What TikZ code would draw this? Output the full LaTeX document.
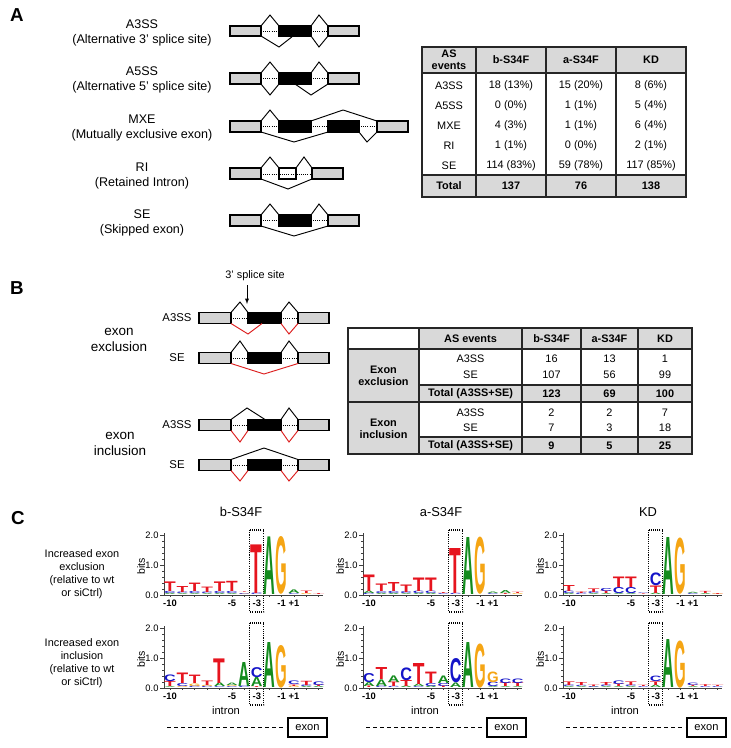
\documentclass[tikz,border=0pt]{standalone}
\usepackage{fontspec}
\setmainfont{Liberation Sans}
\usepackage{graphicx}
\usepackage{xcolor}
\usepackage{tikz}
\usetikzlibrary{arrows,calc,positioning}
\definecolor{exgray}{RGB}{211,211,211}
\definecolor{tabgray}{RGB}{217,217,217}
\definecolor{jred}{RGB}{220,30,30}
\definecolor{lgA}{RGB}{20,140,30}
\definecolor{lgC}{RGB}{20,20,200}
\definecolor{lgG}{RGB}{245,165,20}
\definecolor{lgT}{RGB}{230,20,30}
\tikzset{%
	exon/.style     = {draw, line width=1pt, fill=exgray}, % constitutive exon
	altex/.style    = {draw, line width=1pt, fill=black}, % alternative exon
	retint/.style   = {draw, line width=1pt, fill=white}, % retained intron
	junc/.style     = {line width=0.8pt},
	redjunc/.style  = {line width=0.8pt, draw=jred},
	intr/.style     = {densely dotted, line width=0.8pt},
	panel/.style    = {font=\fontsize{16}{18}\selectfont\bfseries},
	evlabel/.style  = {align=center, font=\fontsize{10.7}{13}\selectfont},
}
\tikzset{%
	tabline/.style  = {line width=1.1pt, draw=black!85},
	tabtxt/.style   = {align=center, font=\fontsize{9.3}{11}\selectfont},
	tabhead/.style  = {align=center, font=\fontsize{9.3}{11}\selectfont\bfseries},
	axis/.style     = {line width=0.6pt, draw=black!75},
	ytick/.style    = {inner sep=1pt, font=\fontsize{8}{9}\selectfont},
	xtick/.style    = {inner sep=0pt, font=\fontsize{8}{9}\selectfont\bfseries},
	sitebox/.style  = {densely dotted, line width=0.9pt},
	letter/.style   = {anchor=south, inner sep=0pt, font=\bfseries},
}
% one sequence logo: x offset, baseline, columns (bottom to top)
\newcommand\logo[3]{%
	\foreach \stk [count=\lgi from 0] in {#3}{%
		\gdef\lgacc{0}%
		\foreach \lgL/\lgH in \stk{%
			\pgfmathsetmacro\lgy{#2-30*\lgacc}%
			\pgfmathsetmacro\lgsz{0.9*\lgH}%
			\node[letter, text=lg\lgL] at ({#1+170+12.4*\lgi},\lgy) {\resizebox{0.35cm}{\lgsz cm}{\lgL}};
			\pgfmathsetmacro\lgnew{\lgacc+\lgH}%
			\xdef\lgacc{\lgnew}%
		}%
	}%
}

\begin{document}
\begin{tikzpicture}[x=0.03cm, y=-0.03cm]
	\useasboundingbox (0,0) rectangle (731,748);

	% A
	\node[panel] (pa) at (17,15) {A};
	\node[evlabel] (l3) at (142,33) {A3SS\\(Alternative 3’ splice site)};
	\node[evlabel] (l5) at (142,80) {A5SS\\(Alternative 5’ splice site)};
	\node[evlabel] (lm) at (142,128) {MXE\\(Mutually exclusive exon)};
	\node[evlabel] (lr) at (142,176) {RI\\(Retained Intron)};
	\node[evlabel] (ls) at (142,223) {SE\\(Skipped exon)};

	\draw[intr] (261,31) -- (279,31) (311,31) -- (328,31);
	\draw[exon] (230,26) rectangle (261,36);
	\draw[altex] (279,26) rectangle (311,36);
	\draw[exon] (328,26) rectangle (359,36);
	\draw[junc] (261,26) -- (270,15) -- (279,26) (311,26) -- (319,15) -- (328,26);
	\draw[junc] (261,36) -- (279,47) -- (293,36) (311,36) -- (319,47) -- (328,36);

	\draw[intr] (261,78) -- (279,78) (311,78) -- (328,78);
	\draw[exon] (230,73) rectangle (261,84);
	\draw[altex] (279,73) rectangle (311,84);
	\draw[exon] (328,73) rectangle (359,84);
	\draw[junc] (261,73) -- (270,62) -- (279,73) (311,73) -- (319,62) -- (328,73);
	\draw[junc] (261,84) -- (270,95) -- (279,84) (295,84) -- (311,95) -- (328,84);

	\draw[intr] (261,126) -- (279,126) (311,126) -- (328,126) (359,126) -- (377,126);
	\draw[exon] (230,121) rectangle (261,132);
	\draw[altex] (279,121) rectangle (311,132);
	\draw[altex] (328,121) rectangle (359,132);
	\draw[exon] (377,121) rectangle (408,132);
	\draw[junc] (261,121) -- (270,110) -- (279,121) (311,121) -- (343,110) -- (377,121);
	\draw[junc] (261,132) -- (294,142) -- (328,132) (359,132) -- (367,142) -- (377,132);

	\draw[exon] (230,168) rectangle (261,179);
	\draw[retint] (279,168) rectangle (296,179);
	\draw[exon] (312,168) rectangle (343,179);
	\draw[intr] (261,174) -- (312,174);
	\draw[junc] (261,168) -- (270,157) -- (279,168) (296,168) -- (304,157) -- (312,168);
	\draw[junc] (261,179) -- (288,189) -- (312,179);

	\draw[intr] (261,220) -- (279,220) (311,220) -- (328,220);
	\draw[exon] (230,215) rectangle (261,226);
	\draw[altex] (279,215) rectangle (311,226);
	\draw[exon] (328,215) rectangle (359,226);
	\draw[junc] (261,215) -- (270,204) -- (279,215) (311,215) -- (319,204) -- (328,215);
	\draw[junc] (261,226) -- (294,236) -- (328,226);

	% table A
	\fill[tabgray] (422,47) rectangle (686,73) (422,175) rectangle (686,197);
	\draw[tabline] (422,47) rectangle (686,197);
	\draw[tabline] (422,73) -- (686,73) (422,175) -- (686,175);
	\foreach \cx in {476,546,616} \draw[tabline] (\cx,47) -- (\cx,197);
	\node[tabhead] (ha) at (449,60) {AS\\[-1pt]events};
	\node[tabhead] (hb) at (511,60) {b-S34F};
	\node[tabhead] (hc) at (581,60) {a-S34F};
	\node[tabhead] (hd) at (651,60) {KD};
	\foreach \ry/\ev/\vb/\va/\vk in {86/A3SS/18 (13\%)/15 (20\%)/8 (6\%),
		106/A5SS/0 (0\%)/1 (1\%)/5 (4\%), 126/MXE/4 (3\%)/1 (1\%)/6 (4\%),
		146/RI/1 (1\%)/0 (0\%)/2 (1\%), 166/SE/114 (83\%)/59 (78\%)/117 (85\%)}{
		\node[tabtxt] at (449,\ry) {\ev};
		\node[tabtxt] at (511,\ry) {\vb};
		\node[tabtxt] at (581,\ry) {\va};
		\node[tabtxt] at (651,\ry) {\vk};
	}
	\node[tabhead] (ta) at (449,186) {Total};
	\node[tabhead] (tb) at (511,186) {137};
	\node[tabhead] (tc) at (581,186) {76};
	\node[tabhead] (td) at (651,186) {138};

	% B
	\node[panel] (pb) at (17,288) {B};
	\node[font=\fontsize{9.3}{11}\selectfont] (ss) at (255,276) {3’ splice site};
	\coordinate (ssend) at (247,304);
	\draw[-latex, line width=0.6pt] (ss.south -| ssend) -- (ssend);
	\node[align=center, font=\fontsize{11.5}{14}\selectfont] (exc) at (119,340) {exon\\exclusion};
	\node[align=center, font=\fontsize{11.5}{14}\selectfont] (inc) at (120,444) {exon\\inclusion};
	\foreach \ry/\ev in {318/A3SS, 358/SE, 425/A3SS, 465/SE}{
		\node[font=\fontsize{9.7}{11}\selectfont] at (177,\ry) {\ev};
		\draw[intr] (231,\ry) -- (248,\ry) (281,\ry) -- (298,\ry);
		\draw[exon] (199,\ry-5.5) rectangle (231,\ry+5.5);
		\draw[altex] (248,\ry-5.5) rectangle (281,\ry+5.5);
		\draw[exon] (298,\ry-5.5) rectangle (329,\ry+5.5);
	}
	\draw[junc] (231,312.5) -- (240,302) -- (248,312.5) (281,312.5) -- (289,302) -- (298,312.5);
	\draw[redjunc] (231,323.5) -- (248,334) -- (262,323.5) (281,323.5) -- (289,334) -- (298,323.5);
	\draw[junc] (231,352.5) -- (240,341) -- (248,352.5) (281,352.5) -- (289,341) -- (298,352.5);
	\draw[redjunc] (231,363.5) -- (264,374) -- (298,363.5);
	\draw[junc] (231,419.5) -- (247,408) -- (265,419.5) (281,419.5) -- (289,408) -- (298,419.5);
	\draw[redjunc] (231,430.5) -- (240,442) -- (248,430.5) (281,430.5) -- (289,442) -- (298,430.5);
	\draw[junc] (231,459.5) -- (264,448) -- (298,459.5);
	\draw[redjunc] (231,470.5) -- (240,481) -- (248,470.5) (281,470.5) -- (289,481) -- (298,470.5);

	% table B
	\fill[tabgray] (419,328) rectangle (692,349) (348,349) rectangle (419,454)
		(419,385) rectangle (692,402) (419,437) rectangle (692,454);
	\draw[tabline] (348,328) rectangle (692,454);
	\draw[tabline] (348,349) -- (692,349) (348,402) -- (692,402) (419,385) -- (692,385) (419,437) -- (692,437);
	\foreach \cx in {419,522,581,638} \draw[tabline] (\cx,328) -- (\cx,454);
	\node[tabhead] (hba) at (470.5,338.5) {AS events};
	\node[tabhead] (hbb) at (551.5,338.5) {b-S34F};
	\node[tabhead] (hbc) at (609.5,338.5) {a-S34F};
	\node[tabhead] (hbd) at (665,338.5) {KD};
	\node[tabhead] (gex) at (383.5,376) {Exon\\[-1pt]exclusion};
	\node[tabhead] (gin) at (383.5,429) {Exon\\[-1pt]inclusion};
	\foreach \ry/\ev/\vb/\va/\vk in {359/A3SS/16/13/1, 375/SE/107/56/99, 413/A3SS/2/2/7, 428/SE/7/3/18}{
		\node[tabtxt] at (470.5,\ry) {\ev};
		\node[tabtxt] at (551.5,\ry) {\vb};
		\node[tabtxt] at (609.5,\ry) {\va};
		\node[tabtxt] at (665,\ry) {\vk};
	}
	\foreach \ry/\vb/\va/\vk in {394/123/69/100, 446/9/5/25}{
		\node[tabhead] at (470.5,\ry) {Total (A3SS+SE)};
		\node[tabhead] at (551.5,\ry) {\vb};
		\node[tabhead] at (609.5,\ry) {\va};
		\node[tabhead] at (665,\ry) {\vk};
	}

	% C
	\node[panel] (pc) at (18,518) {C};
	\node[font=\fontsize{11}{13}\selectfont] (tb) at (241,512) {b-S34F};
	\node[font=\fontsize{11}{13}\selectfont] (ta) at (441,512) {a-S34F};
	\node[font=\fontsize{11}{13}\selectfont] (tk) at (648,512) {KD};
	\node[align=center, font=\fontsize{9.3}{11}\selectfont] (rex) at (82,574) {Increased exon\\exclusion\\(relative to wt\\or siCtrl)};
	\node[align=center, font=\fontsize{9.3}{11}\selectfont] (rin) at (82,663) {Increased exon\\inclusion\\(relative to wt\\or siCtrl)};
	\foreach \ox in {0,199,399}{
		\foreach \by in {595,688}{
			\draw[axis] ({\ox+164},{\by-62}) -- ({\ox+164},\by) -- ({\ox+323},\by);
			\foreach \t in {0,...,10} \draw[axis] ({\ox+164},{\by-6*\t}) -- ++(-2,0);
			\foreach \t/\v in {0/0.0,5/1.0,10/2.0} \draw[axis] ({\ox+164},{\by-6*\t}) -- ++(-4,0) node[ytick, left] {\v};
			\foreach \p in {0,...,12} \draw[axis] ({\ox+170+12.4*\p},\by) -- ++(0,2);
			\foreach \p/\v in {0/-10,5/-5,7/-3,9/-1,10/+1} \node[xtick] at ({\ox+170+12.4*\p},{\by+8}) {\v};
			\draw[sitebox] ({\ox+170+12.4*7-7},{\by-65}) rectangle ({\ox+170+12.4*7+7},{\by+17});
			\node[rotate=90, font=\fontsize{9}{10}\selectfont] at ({\ox+141},{\by-29}) {bits};
		}
		\node[font=\fontsize{9.5}{11}\selectfont] at ({\ox+226},711) {intron};
		\node[draw, line width=0.9pt, minimum width=1.17cm, minimum height=0.57cm, inner sep=0pt,
			font=\fontsize{9.5}{11}\selectfont] (ex\ox) at ({\ox+307.5},727.5) {exon};
		\draw[dashed, line width=0.8pt] ({\ox+167},727.5) -- (ex\ox.west);
	}

	\logo{0}{595}{{A/.04,C/.07,T/.32},{A/.03,C/.05,T/.2},{A/.03,C/.07,T/.28},{A/.03,C/.05,T/.18},
		{A/.04,C/.07,T/.32},{A/.03,C/.07,T/.34},{G/.02,C/.03,T/.02},{C/.05,T/1.62},{A/1.92},{G/1.9},
		{C/.03,A/.12},{G/.03,T/.08},{T/.03}}
	\logo{0}{688}{{A/.03,T/.17,C/.22},{G/.03,C/.1,T/.35},{C/.05,G/.08,T/.28},{C/.04,G/.04,T/.15},
		{C/.03,A/.12,T/.82},{C/.03,G/.03,A/.08},{C/.05,A/.8},{T/.03,A/.3,C/.33},{A/1.5},{G/1.4},
		{G/.05,T/.05,C/.12},{A/.04,C/.05,T/.14},{A/.04,T/.05,C/.12}}
	\logo{199}{595}{{C/.04,A/.08,T/.55},{A/.04,C/.06,T/.25},{A/.04,C/.07,T/.3},{A/.03,C/.06,T/.25},
		{A/.04,C/.08,T/.45},{A/.04,C/.08,T/.45},{C/.03,T/.03},{C/.04,T/1.5},{A/1.9},{G/1.88},
		{C/.03,A/.05},{T/.03,A/.1},{G/.03,T/.04}}
	\logo{199}{688}{{T/.05,A/.13,C/.3},{C/.05,A/.22,T/.4},{C/.04,T/.15,A/.22},{A/.05,T/.2,C/.42},
		{C/.03,A/.08,T/.7},{A/.05,C/.1,T/.38},{T/.05,C/.1,A/.25},{A/.15,C/.8},{A/1.5},{G/1.45},
		{A/.03,C/.15,G/.35},{A/.03,T/.12,C/.15},{A/.03,T/.12,C/.15}}
	\logo{399}{595}{{A/.04,C/.08,T/.2},{C/.05,T/.05},{A/.03,C/.06,T/.12},{A/.03,T/.08,C/.1},
		{A/.03,C/.2,T/.35},{A/.03,C/.2,T/.35},{T/.02,C/.02},{A/.05,T/.25,C/.42},{A/1.9},{G/1.85},
		{C/.03,A/.04},{A/.03,T/.07},{G/.02,T/.03}}
	\logo{399}{688}{{A/.03,C/.05,T/.12},{A/.03,C/.04,T/.1},{A/.02,C/.03,T/.05},{A/.03,C/.05,T/.1},
		{A/.03,T/.08,C/.12},{A/.03,C/.05,T/.12},{C/.03,T/.04},{A/.08,T/.12,C/.18},{A/1.6},{G/1.55},
		{A/.03,T/.04,C/.08},{C/.03,T/.06},{C/.03,T/.04}}
\end{tikzpicture}
\end{document}
